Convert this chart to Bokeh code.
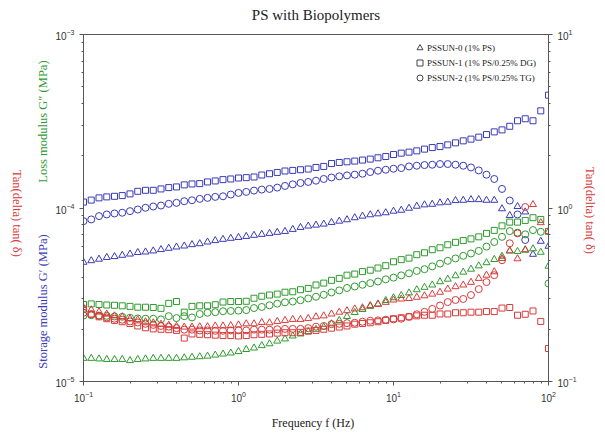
import math
import numpy as np
from bokeh.plotting import figure
from bokeh.models import LogAxis, Range1d, LogScale, Label, Legend, LegendItem, FixedTicker
from bokeh.embed import file_html
from bokeh.resources import INLINE

# ---------------- data ----------------
freq = [0.1, 0.1122, 0.1259, 0.1413, 0.1585, 0.1778, 0.1995, 0.2239, 0.2512, 0.2818,
        0.3162, 0.3548, 0.3981, 0.4467, 0.5012, 0.5623, 0.6310, 0.7079, 0.7943, 0.8913,
        1.0, 1.122, 1.259, 1.413, 1.585, 1.778, 1.995, 2.239, 2.512, 2.818,
        3.162, 3.548, 3.981, 4.467, 5.012, 5.623, 6.310, 7.079, 7.943, 8.913,
        10.0, 11.22, 12.59, 14.13, 15.85, 17.78, 19.95, 22.39, 25.12, 28.18,
        31.62, 35.48, 39.81, 44.67, 50.12, 56.23, 63.10, 70.79, 79.43, 89.13,
        100.0]

# moduli in units of 1e-4 MPa
storage_pssun1 = [1.082, 1.111, 1.144, 1.159, 1.168, 1.179, 1.206, 1.248, 1.265, 1.265,
                  1.288, 1.311, 1.323, 1.359, 1.376, 1.382, 1.413, 1.432, 1.457, 1.470,
                  1.489, 1.496, 1.509, 1.549, 1.576, 1.603, 1.634, 1.647, 1.662, 1.677,
                  1.713, 1.736, 1.804, 1.830, 1.847, 1.864, 1.889, 1.914, 1.947, 1.980,
                  2.033, 2.071, 2.099, 2.135, 2.184, 2.230, 2.260, 2.312, 2.374, 2.438,
                  2.494, 2.560, 2.650, 2.746, 2.820, 2.958, 3.183, 3.268, 3.183, 3.630,
                  4.470]
storage_pssun2 = [0.840, 0.859, 0.898, 0.918, 0.930, 0.939, 0.959, 0.980, 1.003, 1.020,
                  1.033, 1.057, 1.071, 1.094, 1.108, 1.129, 1.144, 1.159, 1.168, 1.195,
                  1.222, 1.238, 1.260, 1.277, 1.288, 1.311, 1.340, 1.369, 1.394, 1.413,
                  1.437, 1.470, 1.499, 1.522, 1.541, 1.556, 1.576, 1.612, 1.640, 1.662,
                  1.684, 1.699, 1.736, 1.753, 1.768, 1.776, 1.792, 1.792, 1.776, 1.753,
                  1.713, 1.647, 1.556, 1.470, 1.288, 1.104, 0.918, 0.654]
storage_pssun0 = [0.487, 0.497, 0.507, 0.519, 0.525, 0.534, 0.543, 0.554, 0.558, 0.566,
                  0.576, 0.586, 0.596, 0.604, 0.615, 0.623, 0.637, 0.649, 0.660, 0.669,
                  0.677, 0.686, 0.696, 0.705, 0.714, 0.724, 0.733, 0.753, 0.773, 0.787,
                  0.797, 0.808, 0.826, 0.840, 0.856, 0.879, 0.898, 0.914, 0.926, 0.939,
                  0.959, 0.971, 0.997, 1.024, 1.043, 1.051, 1.071, 1.080, 1.104, 1.108,
                  1.118, 1.118, 1.108, 1.108, 0.990, 0.906, 1.020, 0.949, 0.541, 0.643,
                  0.602]
loss_pssun1 = [0.278, 0.280, 0.278, 0.276, 0.275, 0.273, 0.271, 0.268, 0.268, 0.267,
               0.264, 0.282, 0.289, 0.251, 0.271, 0.273, 0.273, 0.277, 0.287, 0.289,
               0.289, 0.290, 0.302, 0.310, 0.315, 0.319, 0.327, 0.329, 0.338, 0.344,
               0.360, 0.369, 0.383, 0.393, 0.410, 0.416, 0.430, 0.438, 0.451, 0.465,
               0.490, 0.504, 0.514, 0.538, 0.552, 0.575, 0.590, 0.614, 0.634, 0.649,
               0.664, 0.682, 0.714, 0.743, 0.789, 0.829, 0.829, 0.848, 0.879, 0.859,
               0.733]
loss_pssun2 = [0.240, 0.241, 0.240, 0.239, 0.237, 0.236, 0.233, 0.231, 0.230, 0.230,
               0.228, 0.238, 0.232, 0.238, 0.234, 0.245, 0.249, 0.251, 0.254, 0.255,
               0.256, 0.258, 0.265, 0.269, 0.275, 0.281, 0.286, 0.289, 0.294, 0.301,
               0.308, 0.316, 0.326, 0.335, 0.346, 0.353, 0.361, 0.369, 0.377, 0.388,
               0.397, 0.409, 0.420, 0.434, 0.444, 0.461, 0.478, 0.496, 0.512, 0.530,
               0.547, 0.566, 0.599, 0.637, 0.682, 0.736, 0.721, 0.705, 0.746, 0.729,
               0.367]
loss_pssun0 = [0.136, 0.136, 0.135, 0.134, 0.134, 0.134, 0.132, 0.134, 0.135, 0.136,
               0.136, 0.136, 0.136, 0.137, 0.138, 0.139, 0.140, 0.142, 0.144, 0.146,
               0.149, 0.153, 0.156, 0.161, 0.165, 0.171, 0.176, 0.183, 0.188, 0.194,
               0.200, 0.206, 0.215, 0.225, 0.237, 0.250, 0.260, 0.271, 0.280, 0.293,
               0.304, 0.313, 0.324, 0.338, 0.349, 0.360, 0.376, 0.389, 0.407, 0.427,
               0.444, 0.464, 0.484, 0.505, 0.527, 0.566, 0.562, 0.571, 0.582, 0.556,
               0.462]
# tan(delta), dimensionless
tan_pssun1 = [0.262, 0.245, 0.236, 0.230, 0.225, 0.221, 0.216, 0.209, 0.204, 0.201,
              0.200, 0.199, 0.197, 0.178, 0.188, 0.187, 0.186, 0.185, 0.184, 0.184,
              0.183, 0.184, 0.186, 0.187, 0.188, 0.190, 0.191, 0.191, 0.192, 0.195,
              0.197, 0.200, 0.203, 0.206, 0.209, 0.214, 0.216, 0.218, 0.221, 0.225,
              0.230, 0.233, 0.236, 0.239, 0.241, 0.241, 0.245, 0.245, 0.249, 0.249,
              0.251, 0.251, 0.253, 0.253, 0.265, 0.267, 0.241, 0.244, 0.255, 0.222,
              0.155]
tan_pssun2 = [0.249, 0.244, 0.239, 0.234, 0.230, 0.227, 0.222, 0.219, 0.215, 0.212,
              0.209, 0.207, 0.203, 0.199, 0.199, 0.197, 0.197, 0.196, 0.196, 0.197,
              0.197, 0.197, 0.199, 0.199, 0.199, 0.200, 0.201, 0.201, 0.201, 0.203,
              0.207, 0.209, 0.214, 0.215, 0.217, 0.218, 0.221, 0.224, 0.225, 0.227,
              0.228, 0.230, 0.236, 0.244, 0.252, 0.262, 0.274, 0.287, 0.295, 0.299,
              0.315, 0.341, 0.374, 0.410, 0.500, 0.626, 0.714, 1.013]
tan_pssun0 = [0.266, 0.259, 0.252, 0.245, 0.239, 0.236, 0.230, 0.227, 0.221, 0.218,
              0.214, 0.211, 0.208, 0.206, 0.206, 0.207, 0.207, 0.209, 0.209, 0.210,
              0.212, 0.215, 0.215, 0.219, 0.218, 0.222, 0.225, 0.228, 0.228, 0.231,
              0.236, 0.239, 0.245, 0.251, 0.256, 0.262, 0.266, 0.274, 0.278, 0.286,
              0.295, 0.299, 0.301, 0.306, 0.312, 0.319, 0.327, 0.341, 0.352, 0.360,
              0.373, 0.393, 0.410, 0.429, 0.512, 0.566, 0.510, 0.575, 1.047, 0.823,
              0.733]

legend_labels = ["PSSUN-0 (1% PS)", "PSSUN-1 (1% PS/0.25% DG)", "PSSUN-2 (1% PS/0.25% TG)"]
tan_major_ticks = [0.1, 1, 10]
tan_minor_ticks = [0.2, 0.3, 0.4, 0.5, 0.6, 0.7, 0.8, 0.9, 2, 3, 4, 5, 6, 7, 8, 9]
MODULUS_UNIT = 1e-4  # lists above are in 1e-4 MPa

BLUE = "#3a3ab8"
GREEN = "#2f9a2f"
RED = "#d83a3a"
SERIF = "Liberation Serif"
SANS = "Liberation Sans"

p = figure(width=597, height=432, x_axis_type="log", y_axis_type="log",
           x_range=Range1d(0.1, 100), y_range=Range1d(1e-5, 1e-3),
           output_backend="svg", toolbar_location=None,
           min_border_left=83, min_border_right=49, min_border_top=34, min_border_bottom=47)
p.extra_y_ranges = {"tan": Range1d(0.1, 10)}
p.extra_y_scales = {"tan": LogScale()}
right_axis = LogAxis(y_range_name="tan",
                     ticker=FixedTicker(ticks=tan_major_ticks, minor_ticks=tan_minor_ticks))
p.add_layout(right_axis, "right")

p.xgrid.visible = False
p.ygrid.visible = False
p.outline_line_color = "#555555"
p.outline_line_width = 1
p.background_fill_color = "white"
p.border_fill_color = "white"

for ax in [p.xaxis[0], p.yaxis[0], right_axis]:
    ax.axis_line_color = "#555555"
    ax.major_tick_line_color = "#555555"
    ax.minor_tick_line_color = "#555555"
    ax.major_tick_out = 4
    ax.major_tick_in = 0
    ax.minor_tick_out = 2
    ax.minor_tick_in = 0
    ax.major_label_text_font = SANS
    ax.major_label_text_font_size = "10px"
    ax.major_label_text_color = "#333333"

p.xaxis.axis_label = "Frequency  f  (Hz)"
p.xaxis.axis_label_text_font = SERIF
p.xaxis.axis_label_text_font_size = "12px"
p.xaxis.axis_label_text_font_style = "normal"
p.xaxis.axis_label_text_color = "#222222"
p.xaxis.axis_label_standoff = 11

def plot_set(y, marker, color, size, range_name="default", scale=1.0):
    yy = np.array(y, dtype=float) * scale
    xx = freq[:len(yy)]
    return p.scatter(x=xx, y=yy, marker=marker, size=size, fill_color=None,
                     line_color=color, line_width=1, y_range_name=range_name)

# storage modulus (blue)
plot_set(storage_pssun1, "square", BLUE, 6, scale=MODULUS_UNIT)
plot_set(storage_pssun2, "circle", BLUE, 7, scale=MODULUS_UNIT)
plot_set(storage_pssun0, "triangle", BLUE, 7, scale=MODULUS_UNIT)
# loss modulus (green)
plot_set(loss_pssun1, "square", GREEN, 6, scale=MODULUS_UNIT)
plot_set(loss_pssun2, "circle", GREEN, 7, scale=MODULUS_UNIT)
plot_set(loss_pssun0, "triangle", GREEN, 7, scale=MODULUS_UNIT)
# tan delta (red, right axis)
plot_set(tan_pssun1, "square", RED, 6, range_name="tan")
plot_set(tan_pssun2, "circle", RED, 7, range_name="tan")
plot_set(tan_pssun0, "triangle", RED, 7, range_name="tan")

# legend (neutral markers); the proxy point sits far outside the visible ranges
lg_markers = ["triangle", "square", "circle"]
items = []
for m, lab in zip(lg_markers, legend_labels):
    r = p.scatter(x=[1e-9], y=[1e-9], marker=m, size=6.5, fill_color=None,
                  line_color="#444444", line_width=1)
    items.append(LegendItem(label=lab, renderers=[r]))
legend = Legend(items=items, location=(329, 296), padding=0, margin=0, spacing=0,
                glyph_width=15, glyph_height=15, label_height=15, label_standoff=0,
                border_line_color=None, background_fill_alpha=0,
                label_text_font=SERIF, label_text_font_size="9px", label_text_color="#222222")
p.add_layout(legend, "center")

# texts outside the frame: labels placed in the side panels, positioned in data coordinates
def outer_label(place, x, y, text, angle, color, size="12.5px"):
    p.add_layout(Label(x=x, y=y, text=text, angle=angle,
                       text_align="center", text_baseline="middle", text_font=SERIF,
                       text_font_size=size, text_color=color), place)

outer_label("above", 3.162, 1.302e-3, "PS with Biopolymers", 0, "#222222", size="15px")
outer_label("left", 0.0544, 3.215e-4, "Loss modulus  G\u2033 (MPa)", math.pi / 2, GREEN)
outer_label("left", 0.0544, 2.95e-5, "Storage modulus  G\u2032 (MPa)", math.pi / 2, BLUE)
outer_label("left", 0.0375, 9.3e-5, "Tan(delta) tan( \u03b4)", -math.pi / 2, RED)
outer_label("right", 186.6, 9.67e-5, "Tan(delta) tan( \u03b4)", -math.pi / 2, RED)

open("out.html", "w").write(file_html(p, INLINE))
